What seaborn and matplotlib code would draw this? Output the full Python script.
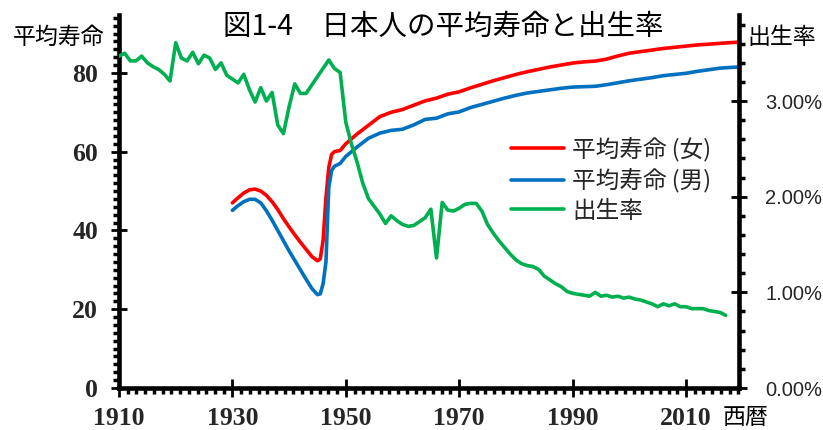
import numpy as np
import pandas as pd
import matplotlib
matplotlib.use("Agg")
import matplotlib.pyplot as plt
import seaborn as sns
from matplotlib.ticker import FixedLocator, MultipleLocator, FuncFormatter

# ---------------- data ----------------
le_years = [1930, 1931, 1932, 1933, 1934, 1935, 1936, 1937, 1938, 1939,
            1940, 1941, 1942, 1943, 1944, 1945, 1945.5, 1946, 1946.5, 1947,
            1947.5, 1948, 1949, 1950, 1952, 1954, 1956, 1958, 1960, 1962,
            1964, 1966, 1968, 1970, 1972, 1974, 1976, 1978, 1980, 1982,
            1984, 1986, 1988, 1990, 1992, 1994, 1996, 1998, 2000, 2002,
            2004, 2006, 2008, 2010, 2012, 2014, 2016, 2018, 2019.35]
le_female = [47.0, 48.3, 49.5, 50.3, 50.5, 50.0, 48.9, 47.3, 45.3, 43.0,
             40.9, 38.9, 37.0, 35.2, 33.4, 32.3, 32.8, 37.5, 48.3, 56.0,
             59.3, 60.0, 60.3, 62.0, 64.5, 66.7, 68.9, 70.0, 70.7, 71.8,
             72.9, 73.6, 74.6, 75.2, 76.2, 77.1, 78.0, 78.8, 79.6, 80.3,
             80.9, 81.5, 82.0, 82.5, 82.8, 83.0, 83.5, 84.3, 85.0, 85.4,
             85.8, 86.2, 86.5, 86.8, 87.1, 87.3, 87.5, 87.7, 87.8]
le_male = [45.1, 46.3, 47.3, 47.9, 47.9, 47.0, 45.0, 42.6, 40.0, 37.4,
           34.8, 32.4, 30.0, 27.6, 25.3, 23.7, 23.9, 26.5, 32.0, 51.0,
           55.2, 56.3, 57.0, 58.8, 61.2, 63.4, 64.7, 65.4, 65.7, 66.8,
           68.2, 68.5, 69.6, 70.1, 71.2, 72.0, 72.8, 73.6, 74.3, 74.9,
           75.3, 75.7, 76.1, 76.4, 76.5, 76.6, 77.0, 77.5, 78.0, 78.4,
           78.8, 79.3, 79.6, 79.9, 80.4, 80.8, 81.2, 81.4, 81.5]

br_years = list(range(1910, 1944)) + list(range(1947, 2018))
br_rate = [3.47, 3.50, 3.42, 3.42, 3.47, 3.40, 3.36, 3.33, 3.28, 3.21,
           3.61, 3.45, 3.42, 3.51, 3.39, 3.48, 3.45, 3.33, 3.40, 3.27,
           3.23, 3.19, 3.28, 3.12, 2.99, 3.14, 3.00, 3.09, 2.75, 2.66,
           2.94, 3.18, 3.08, 3.08,
           3.43, 3.34, 3.30,
           2.78, 2.55, 2.36, 2.14, 1.98, 1.90, 1.82, 1.72, 1.80, 1.75,
           1.71, 1.69, 1.70, 1.74, 1.78, 1.87, 1.36, 1.94, 1.86, 1.85,
           1.88, 1.92, 1.93, 1.93, 1.85, 1.71, 1.62, 1.54, 1.47, 1.40,
           1.34, 1.30, 1.28, 1.27, 1.24, 1.17, 1.13, 1.09, 1.06, 1.01,
           0.99, 0.98, 0.97, 0.96, 1.00, 0.96, 0.97, 0.95, 0.96, 0.94,
           0.95, 0.93, 0.92, 0.90, 0.88, 0.85, 0.88, 0.86, 0.88, 0.85,
           0.85, 0.83, 0.83, 0.83, 0.81, 0.80, 0.79, 0.76]

x_ticks = [1910, 1930, 1950, 1970, 1990, 2010]
y_ticks = [0, 20, 40, 60, 80]
y2_ticks = [0, 1, 2, 3]
labels = ["平均寿命 (女)", "平均寿命 (男)", "出生率"]
title = "図1-4　日本人の平均寿命と出生率"

# ---------------- style ----------------
sns.set_theme(style="white")
plt.rcParams['font.family'] = ['Noto Sans CJK JP', 'DejaVu Sans']
CJK = ['Noto Sans CJK JP', 'DejaVu Sans']

W, H = 823, 430
fig = plt.figure(figsize=(W / 100, H / 100), dpi=100)
ax = fig.add_axes([119 / W, 42 / H, 620 / W, 373 / H])
ax2 = ax.twinx()

RED, BLUE, GREEN = '#FF0000', '#0070C0', '#00B050'
lkw = dict(linewidth=2.6, solid_capstyle='round', solid_joinstyle='round')

df_le = pd.DataFrame({'year': le_years, 'female': le_female, 'male': le_male})
df_br = pd.DataFrame({'year': br_years, 'rate': br_rate})

sns.lineplot(data=df_le, x='year', y='female', ax=ax, color=RED,
             label=labels[0], legend=False, sort=False, **lkw)
sns.lineplot(data=df_le, x='year', y='male', ax=ax, color=BLUE,
             label=labels[1], legend=False, sort=False, **lkw)
sns.lineplot(data=df_br, x='year', y='rate', ax=ax2, color=GREEN,
             label=labels[2], legend=False, sort=False, **lkw)

ax.set_xlabel('')
ax.set_ylabel('')
ax2.set_ylabel('')

ax.set_xlim(1910, 2019.35)
ax.set_ylim(0, 94.7)
ax2.set_ylim(0, 3.9)

# spines
for a in (ax, ax2):
    a.spines['top'].set_visible(False)
    for s in a.spines.values():
        s.set_color('black')
        s.set_linewidth(3.3)
ax.spines['right'].set_visible(False)
ax2.spines['left'].set_visible(False)
ax2.spines['bottom'].set_visible(False)

# ticks
ax.set_xticks(x_ticks)
ax.xaxis.set_minor_locator(FixedLocator(np.arange(1910, 2019.4, 20 / 13)))
ax.set_yticks(y_ticks)
ax.yaxis.set_minor_locator(MultipleLocator(2))
ax2.set_yticks(y2_ticks)
ax2.yaxis.set_minor_locator(MultipleLocator(0.2))
ax2.yaxis.set_major_formatter(FuncFormatter(lambda v, p: f"{v:.2f}%"))

ax.tick_params(axis='x', which='major', bottom=True, direction='inout',
               length=13, width=2, color='black', pad=7, labelsize=18.5)
ax.tick_params(axis='x', which='minor', bottom=True, direction='out',
               length=4, width=2.5, color='black')
ax.tick_params(axis='y', which='major', left=True, direction='inout',
               length=12, width=2, color='black', pad=9, labelsize=18.5)
ax.tick_params(axis='y', which='minor', left=True, direction='out',
               length=4, width=2.5, color='black')
ax2.tick_params(axis='y', which='major', right=True, direction='inout',
                length=12, width=2, color='black', pad=13, labelsize=14.5)
ax2.tick_params(axis='y', which='minor', right=True, direction='out',
                length=4, width=2.5, color='black')

for t in ax.get_xticklabels() + ax.get_yticklabels():
    t.set_fontfamily('Liberation Serif')
    t.set_fontweight('bold')
for t in ax2.get_yticklabels():
    t.set_fontfamily('Liberation Sans')

# texts
fig.text(443 / W, 1 - 27 / H, title, ha='center', va='center',
         fontsize=20.5, family=CJK, color='black')
fig.text(59 / W, 1 - 37 / H, '平均寿命', ha='center', va='center',
         fontsize=16.5, family=CJK, color='black')
fig.text(782 / W, 1 - 38 / H, '出生率', ha='center', va='center',
         fontsize=16.5, family=CJK, color='black')
fig.text(746 / W, 1 - 417 / H, '西暦', ha='center', va='center',
         fontsize=16.5, family=CJK, color='black')

# legend
h1, l1 = ax.get_legend_handles_labels()
h2, l2 = ax2.get_legend_handles_labels()
leg = ax2.legend(h1 + h2, l1 + l2, loc='upper left',
                 bbox_to_anchor=(511 / W, 1 - 137 / H),
                 bbox_transform=fig.transFigure, frameon=False,
                 handlelength=2.25, handletextpad=0.35,
                 labelspacing=0.28, borderpad=0, borderaxespad=0,
                 prop={'family': CJK, 'size': 17})

fig.savefig('out.png', dpi=100)
